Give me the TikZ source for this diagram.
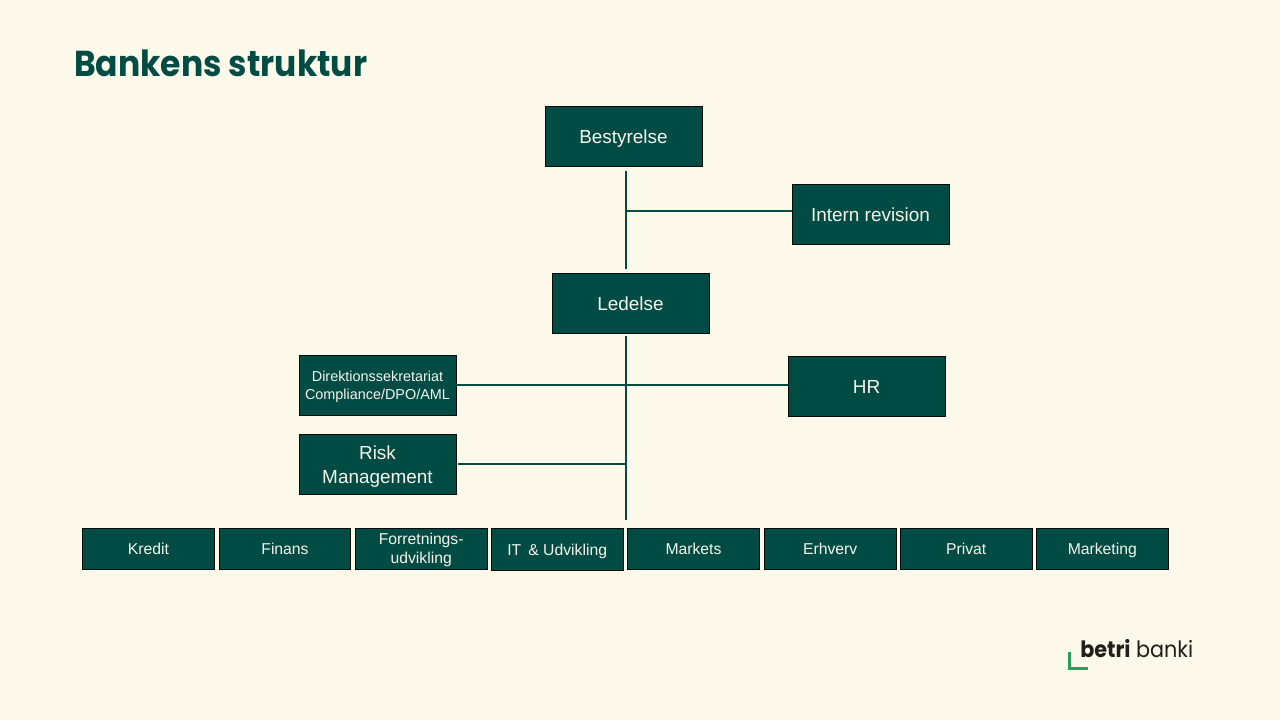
\documentclass[tikz,border=0pt]{standalone}
\usepackage{fontspec}
\setmainfont{Liberation Sans}
\newfontfamily\titlefont[FakeStretch=0.916]{Poppins}
\newfontfamily\logofont[FakeStretch=0.92]{Poppins}
\definecolor{bg}{HTML}{FCF9EA}
\definecolor{boxfill}{HTML}{004B43}
\definecolor{boxtext}{HTML}{F6F5EA}
\definecolor{logotext}{HTML}{1F1F1C}
\definecolor{logogreen}{HTML}{1FA35B}
\newcommand{\st}{\rule[-0.28em]{0pt}{1.37em}}
\newcommand{\sts}{\rule[-0.28em]{0pt}{1.26em}}
\newcommand{\stt}{\rule{0pt}{1.04em}}
\newcommand{\stb}{\rule[-0.28em]{0pt}{0.28em}}
\newcommand{\stts}{\rule{0pt}{0.94em}}
\newcommand{\stbs}{\rule[-0.30em]{0pt}{0.30em}}
\tikzset{
  bx/.style={draw=black!85!boxfill,line width=0.7pt,fill=boxfill,text=boxtext,inner sep=0pt,align=center,anchor=center},
  large/.style={bx,minimum width=117.75pt,minimum height=44.6pt,font=\fontsize{14.2}{18}\selectfont},
  small/.style={bx,minimum width=98.8pt,minimum height=30.2pt,font=\fontsize{11.8}{14.25}\selectfont},
  conn/.style={draw=boxfill,line width=1.5pt},
}
\begin{document}
\begin{tikzpicture}[x=0.75pt,y=-0.75pt]
\useasboundingbox[fill=bg] (0,0) rectangle (1280,720);
\node[anchor=base west,text=boxfill,inner sep=0pt,font=\titlefont\bfseries\fontsize{27}{30}\selectfont] (title) at (74,77) {Bankens struktur};
\node[large] (best) at (623.5,136.3) {\st Bestyrelse};
\node[large] (intern) at (870.5,214.3) {\st Intern revision};
\node[large] (led) at (630.5,303.3) {\st Ledelse};
\node[large,font=\fontsize{10.8}{13.6}\selectfont] (dir) at (377.5,385.3) {\stt Direktionssekretariat\\\stb Compliance/DPO/AML};
\node[large] (hr) at (866.5,386.3) {\st HR};
\node[large] (risk) at (377.5,464.3) {\stt Risk\\\stb Management};
\node[small,minimum width=99.3pt] (kredit) at (148.5,549) {\sts Kredit};
\node[small] (finans) at (285,549) {\sts Finans};
\node[small] (forr) at (421.2,549) {\stts Forretnings-\\\stbs udvikling};
\node[small,minimum height=31pt] (it) at (557.2,549.5) {\sts IT \,\& Udvikling};
\node[small,minimum width=99.3pt] (markets) at (693.5,549) {\sts Markets};
\node[small] (erhverv) at (830.2,549) {\sts Erhverv};
\node[small] (privat) at (966.2,549) {\sts Privat};
\node[small] (marketing) at (1102.3,549) {\sts Marketing};
\coordinate (t1) at (626,171);
\coordinate (b1) at (626,269);
\coordinate (j1) at (626,211);
\coordinate (t2) at (626,336);
\coordinate (b2) at (626,520);
\coordinate (j3) at (626,464);
\coordinate (r3) at (458,464);
\draw[conn] (t1) -- (b1);
\draw[conn] (j1) -- (intern.west |- j1);
\draw[conn] (t2) -- (b2);
\draw[conn] (dir.east |- 0,385) -- (hr.west |- 0,385);
\draw[conn] (r3) -- (j3);
\node[anchor=base west,inner sep=0pt,text=logotext,font=\logofont\fontsize{16.9}{20}\selectfont] (logo) at (1080,657) {\textbf{betri} banki};
\coordinate (l1) at (1069.5,652);
\coordinate (l2) at (1069.5,668.5);
\coordinate (l3) at (1088,668.5);
\draw[logogreen,line width=2.2pt] (l1) -- (l2) -- (l3);
\end{tikzpicture}
\end{document}
